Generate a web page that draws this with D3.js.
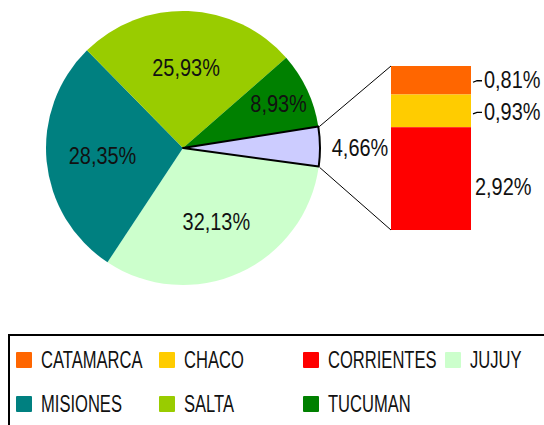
<!DOCTYPE html>
<html>
<head>
<meta charset="utf-8">
<script src="https://cdn.jsdelivr.net/npm/d3@7"></script>
<style>
  body { margin: 0; background: #fff; }
  text { font-family: "Liberation Sans", sans-serif; fill: #111; }
</style>
</head>
<body>
<div id="graph"></div>
<script>
// pie slices (clockwise from the split-off wedge)
var pieNames = ['OTROS', 'JUJUY', 'MISIONES', 'SALTA', 'TUCUMAN']
var pieValues = [4.66, 32.13, 28.35, 25.93, 8.93]
var pieColors = ['#ccccff', '#ccffcc', '#008080', '#99cc00', '#008000']

// the bar that breaks up the small wedge (top to bottom)
var barNames = ['CATAMARCA', 'CHACO', 'CORRIENTES']
var barValues = [0.81, 0.93, 2.92]
var barColors = ['#ff6600', '#ffcc00', '#ff0000']

var legendNames = ['CATAMARCA', 'CHACO', 'CORRIENTES', 'JUJUY', 'MISIONES', 'SALTA', 'TUCUMAN']
var legendColors = ['#ff6600', '#ffcc00', '#ff0000', '#ccffcc', '#008080', '#99cc00', '#008000']

var fmt = d => d3.format('.2f')(d).replace('.', ',') + '%'

var width = 544, height = 425
var svg = d3.select('#graph').append('svg').attr('width', width).attr('height', height)

// condensed text: the original font is narrow, so squeeze a normal one
function label(parent, x, y, str, opts){
  opts = opts || {}
  return parent.append('text')
    .attr('transform', `translate(${x},${y}) scale(${opts.sx || 0.83},1)`)
    .attr('text-anchor', opts.anchor || 'start')
    .attr('dy', '0.36em')
    .style('font-size', (opts.size || 24) + 'px')
    .text(str)
}

var cx = 183, cy = 148, r = 137
var startDeg = 81

var pie = d3.pie().sort(null).value(d => d)
  .startAngle(startDeg * Math.PI / 180)
  .endAngle(startDeg * Math.PI / 180 + 2 * Math.PI)
var arcs = pie(pieValues)
var arc = d3.arc().innerRadius(0).outerRadius(r)

var g = svg.append('g').attr('transform', `translate(${cx},${cy})`)

g.selectAll('path').data(arcs).enter().append('path')
  .attr('d', arc)
  .attr('fill', (d, i) => pieColors[i])
  .attr('stroke', (d, i) => i == 0 ? '#000' : 'none')
  .attr('stroke-width', 2)
  .attr('stroke-linejoin', 'round')

// bring the outlined wedge to front
g.selectAll('path').filter((d, i) => i == 0).raise()

arcs.forEach((d, i) => {
  if (i == 0) return
  var k = d.value < 10 ? 0.77 : 0.59
  var a = (d.startAngle + d.endAngle) / 2
  label(g, Math.sin(a) * r * k, -Math.cos(a) * r * k, fmt(d.value), {anchor: 'middle'})
})

// label for the split wedge sits outside
var other = arcs[0]
label(svg, 360, cy - 1, fmt(other.value), {anchor: 'middle'})

// stacked bar
var barX0 = 391, barX1 = 471
var y = d3.scaleLinear().domain([0, d3.sum(barValues)]).range([230, 66])
var stacked = []
var acc = d3.sum(barValues)
barValues.forEach((v, i) => {
  stacked.push({name: barNames[i], v: v, top: acc, bottom: acc - v, color: barColors[i]})
  acc -= v
})

svg.selectAll('rect.bar').data(stacked).enter().append('rect')
  .attr('class', 'bar')
  .attr('x', barX0)
  .attr('width', barX1 - barX0)
  .attr('y', d => y(d.top))
  .attr('height', d => y(d.bottom) - y(d.top))
  .attr('fill', d => d.color)

// connector lines from the wedge corners to the bar
var p1 = [cx + Math.sin(other.startAngle) * r, cy - Math.cos(other.startAngle) * r]
var p2 = [cx + Math.sin(other.endAngle) * r, cy - Math.cos(other.endAngle) * r]
svg.append('line')
  .attr('x1', p1[0] + 1).attr('y1', p1[1])
  .attr('x2', barX0).attr('y2', y.range()[1])
  .attr('stroke', '#000').attr('stroke-width', 1)
svg.append('line')
  .attr('x1', p2[0] + 1).attr('y1', p2[1] + 1)
  .attr('x2', barX0).attr('y2', y.range()[0])
  .attr('stroke', '#000').attr('stroke-width', 1)

// bar labels
stacked.forEach((d, i) => {
  var ym = (y(d.top) + y(d.bottom)) / 2
  if (i < 2) {
    var ly = ym - (i == 0 ? 1 : 0)
    svg.append('path')
      .attr('d', `M${barX1 + 2},${ly + 3}L${barX1 + 6},${ly + 1.5}L${barX1 + 11},${ly + 1.5}`)
      .attr('fill', 'none').attr('stroke', '#000').attr('stroke-width', 1.3)
    label(svg, barX1 + 13, ly, fmt(d.v))
  } else {
    label(svg, barX1 + 4, ym + 8, fmt(d.v))
  }
})

// legend
svg.append('rect')
  .attr('x', 9).attr('y', 335)
  .attr('width', 600).attr('height', 200)
  .attr('fill', 'none').attr('stroke', '#000').attr('stroke-width', 2)

var colX = [16, 159, 303, 445]
var rowY = [360, 404]
var leg = svg.selectAll('g.leg').data(legendNames).enter().append('g')
  .attr('class', 'leg')
  .attr('transform', (d, i) => `translate(${colX[i % 4]},${rowY[Math.floor(i / 4)]})`)
leg.append('rect')
  .attr('x', 0).attr('y', -8).attr('width', 16).attr('height', 16).attr('rx', 1)
  .attr('fill', (d, i) => legendColors[i])
leg.each(function(d){
  label(d3.select(this), 25, -0.5, d, {size: 23, sx: 0.72})
})
</script>
</body>
</html>
